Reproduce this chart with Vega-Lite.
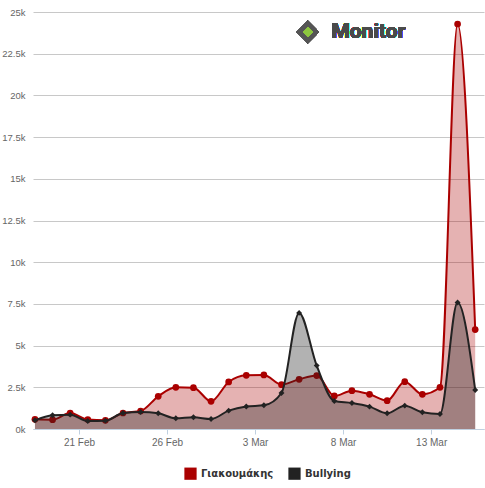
{
  "$schema": "https://vega.github.io/schema/vega-lite/v6.json",
  "width": 451,
  "height": 417,
  "autosize": {"type": "none"},
  "padding": {"left": 33, "top": 12, "right": 1, "bottom": 59},
  "config": {"view": {"stroke": null}, "font": "Liberation Sans"},
  "datasets": {
    "main": [
      {"date": "2015-02-18T12:00:00Z", "series": "Γιακουμάκης", "value": 580},
      {"date": "2015-02-19T12:00:00Z", "series": "Γιακουμάκης", "value": 560},
      {"date": "2015-02-20T12:00:00Z", "series": "Γιακουμάκης", "value": 960},
      {"date": "2015-02-21T12:00:00Z", "series": "Γιακουμάκης", "value": 570},
      {"date": "2015-02-22T12:00:00Z", "series": "Γιακουμάκης", "value": 520},
      {"date": "2015-02-23T12:00:00Z", "series": "Γιακουμάκης", "value": 960},
      {"date": "2015-02-24T12:00:00Z", "series": "Γιακουμάκης", "value": 1080},
      {"date": "2015-02-25T12:00:00Z", "series": "Γιακουμάκης", "value": 1960},
      {"date": "2015-02-26T12:00:00Z", "series": "Γιακουμάκης", "value": 2500},
      {"date": "2015-02-27T12:00:00Z", "series": "Γιακουμάκης", "value": 2480},
      {"date": "2015-02-28T12:00:00Z", "series": "Γιακουμάκης", "value": 1660},
      {"date": "2015-03-01T12:00:00Z", "series": "Γιακουμάκης", "value": 2820},
      {"date": "2015-03-02T12:00:00Z", "series": "Γιακουμάκης", "value": 3220},
      {"date": "2015-03-03T12:00:00Z", "series": "Γιακουμάκης", "value": 3240},
      {"date": "2015-03-04T12:00:00Z", "series": "Γιακουμάκης", "value": 2660},
      {"date": "2015-03-05T12:00:00Z", "series": "Γιακουμάκης", "value": 2980},
      {"date": "2015-03-06T12:00:00Z", "series": "Γιακουμάκης", "value": 3200},
      {"date": "2015-03-07T12:00:00Z", "series": "Γιακουμάκης", "value": 1980},
      {"date": "2015-03-08T12:00:00Z", "series": "Γιακουμάκης", "value": 2300},
      {"date": "2015-03-09T12:00:00Z", "series": "Γιακουμάκης", "value": 2080},
      {"date": "2015-03-10T12:00:00Z", "series": "Γιακουμάκης", "value": 1700},
      {"date": "2015-03-11T12:00:00Z", "series": "Γιακουμάκης", "value": 2840},
      {"date": "2015-03-12T12:00:00Z", "series": "Γιακουμάκης", "value": 2080},
      {"date": "2015-03-13T12:00:00Z", "series": "Γιακουμάκης", "value": 2500},
      {"date": "2015-03-14T12:00:00Z", "series": "Γιακουμάκης", "value": 24280},
      {"date": "2015-03-15T12:00:00Z", "series": "Γιακουμάκης", "value": 5960},
      {"date": "2015-02-18T12:00:00Z", "series": "Bullying", "value": 520},
      {"date": "2015-02-19T12:00:00Z", "series": "Bullying", "value": 820},
      {"date": "2015-02-20T12:00:00Z", "series": "Bullying", "value": 860},
      {"date": "2015-02-21T12:00:00Z", "series": "Bullying", "value": 480},
      {"date": "2015-02-22T12:00:00Z", "series": "Bullying", "value": 500},
      {"date": "2015-02-23T12:00:00Z", "series": "Bullying", "value": 960},
      {"date": "2015-02-24T12:00:00Z", "series": "Bullying", "value": 1020},
      {"date": "2015-02-25T12:00:00Z", "series": "Bullying", "value": 940},
      {"date": "2015-02-26T12:00:00Z", "series": "Bullying", "value": 640},
      {"date": "2015-02-27T12:00:00Z", "series": "Bullying", "value": 700},
      {"date": "2015-02-28T12:00:00Z", "series": "Bullying", "value": 600},
      {"date": "2015-03-01T12:00:00Z", "series": "Bullying", "value": 1100},
      {"date": "2015-03-02T12:00:00Z", "series": "Bullying", "value": 1350},
      {"date": "2015-03-03T12:00:00Z", "series": "Bullying", "value": 1420},
      {"date": "2015-03-04T12:00:00Z", "series": "Bullying", "value": 2160},
      {"date": "2015-03-05T12:00:00Z", "series": "Bullying", "value": 6960},
      {"date": "2015-03-06T12:00:00Z", "series": "Bullying", "value": 3800},
      {"date": "2015-03-07T12:00:00Z", "series": "Bullying", "value": 1680},
      {"date": "2015-03-08T12:00:00Z", "series": "Bullying", "value": 1560},
      {"date": "2015-03-09T12:00:00Z", "series": "Bullying", "value": 1340},
      {"date": "2015-03-10T12:00:00Z", "series": "Bullying", "value": 940},
      {"date": "2015-03-11T12:00:00Z", "series": "Bullying", "value": 1400},
      {"date": "2015-03-12T12:00:00Z", "series": "Bullying", "value": 1000},
      {"date": "2015-03-13T12:00:00Z", "series": "Bullying", "value": 900},
      {"date": "2015-03-14T12:00:00Z", "series": "Bullying", "value": 7580},
      {"date": "2015-03-15T12:00:00Z", "series": "Bullying", "value": 2340}
    ]
  },
  "data": {"name": "main"},
  "encoding": {
    "x": {
      "field": "date",
      "type": "temporal",
      "title": null,
      "scale": {
        "type": "utc",
        "domain": [
          {"year": 2015, "month": "feb", "date": 18, "hours": 9, "minutes": 20, "utc": true},
          {"year": 2015, "month": "mar", "date": 16, "hours": 0, "utc": true}
        ]
      },
      "axis": {
        "values": [
          {"year": 2015, "month": "feb", "date": 21, "utc": true},
          {"year": 2015, "month": "feb", "date": 26, "utc": true},
          {"year": 2015, "month": "mar", "date": 3, "utc": true},
          {"year": 2015, "month": "mar", "date": 8, "utc": true},
          {"year": 2015, "month": "mar", "date": 13, "utc": true}
        ],
        "labelExpr": "utcFormat(datum.value, '%-d %b')",
        "grid": false,
        "domainColor": "#C0D0E0",
        "tickColor": "#C0D0E0",
        "tickSize": 5,
        "labelColor": "#666666",
        "labelFontSize": 10,
        "labelPadding": 3
      }
    },
    "y": {
      "field": "value",
      "type": "quantitative",
      "title": null,
      "scale": {"domain": [0, 25000], "nice": false},
      "axis": {
        "values": [0, 2500, 5000, 7500, 10000, 12500, 15000, 17500, 20000, 22500, 25000],
        "labelExpr": "(datum.value / 1000) + 'k'",
        "grid": true,
        "gridColor": "#C8C8C8",
        "domain": false,
        "ticks": false,
        "labelColor": "#666666",
        "labelFontSize": 9.5,
        "labelPadding": 8
      }
    }
  },
  "layer": [
    {
      "transform": [{"filter": "datum.series === 'Γιακουμάκης'"}],
      "mark": {"type": "area", "interpolate": "monotone", "fillOpacity": 0.3},
      "encoding": {
        "color": {
          "field": "series",
          "type": "nominal",
          "scale": {"domain": ["Γιακουμάκης", "Bullying"], "range": ["#AA0000", "#222222"]},
          "legend": {
            "orient": "none",
            "legendX": 151,
            "legendY": 455,
            "direction": "horizontal",
            "title": null,
            "symbolType": "square",
            "symbolSize": 150,
            "symbolOpacity": 1,
            "symbolStrokeWidth": 0,
            "labelFont": "DejaVu Sans",
            "labelFontSize": 10,
            "labelFontWeight": "bold",
            "labelColor": "#333333",
            "columnPadding": 14
          }
        }
      }
    },
    {
      "transform": [{"filter": "datum.series === 'Γιακουμάκης'"}],
      "mark": {"type": "line", "interpolate": "monotone", "strokeWidth": 2, "color": "#AA0000"},
      "encoding": {}
    },
    {
      "transform": [{"filter": "datum.series === 'Γιακουμάκης'"}],
      "mark": {"type": "point", "shape": "circle", "filled": true, "opacity": 1, "size": 45, "color": "#AA0000"},
      "encoding": {}
    },
    {
      "transform": [{"filter": "datum.series === 'Bullying'"}],
      "mark": {"type": "area", "interpolate": "monotone", "fillOpacity": 0.35},
      "encoding": {
        "color": {"field": "series", "type": "nominal", "legend": null}
      }
    },
    {
      "transform": [{"filter": "datum.series === 'Bullying'"}],
      "mark": {"type": "line", "interpolate": "monotone", "strokeWidth": 2, "color": "#222222"},
      "encoding": {}
    },
    {
      "transform": [{"filter": "datum.series === 'Bullying'"}],
      "mark": {"type": "point", "shape": "diamond", "filled": true, "opacity": 1, "size": 35, "color": "#222222"},
      "encoding": {}
    },
    {
      "mark": {"type": "point", "shape": "diamond", "filled": true, "opacity": 1, "size": 500, "color": "#555555"},
      "encoding": {
        "x": {"datum": {"year": 2015, "month": "mar", "date": 6, "hours": 0, "utc": true}, "type": "temporal"},
        "y": {"datum": 23800, "type": "quantitative"}
      }
    },
    {
      "mark": {"type": "point", "shape": "diamond", "filled": true, "opacity": 1, "size": 90, "color": "#8DC63F"},
      "encoding": {
        "x": {"datum": {"year": 2015, "month": "mar", "date": 6, "hours": 0, "utc": true}, "type": "temporal"},
        "y": {"datum": 23800, "type": "quantitative"}
      }
    },
    {
      "mark": {"type": "text", "text": "Monitor", "font": "Roboto", "fontSize": 21, "fontWeight": "bold", "color": "#4A4A4A", "align": "left", "baseline": "middle"},
      "encoding": {
        "x": {"datum": {"year": 2015, "month": "mar", "date": 7, "hours": 8, "utc": true}, "type": "temporal"},
        "y": {"datum": 23800, "type": "quantitative"}
      }
    }
  ]
}
